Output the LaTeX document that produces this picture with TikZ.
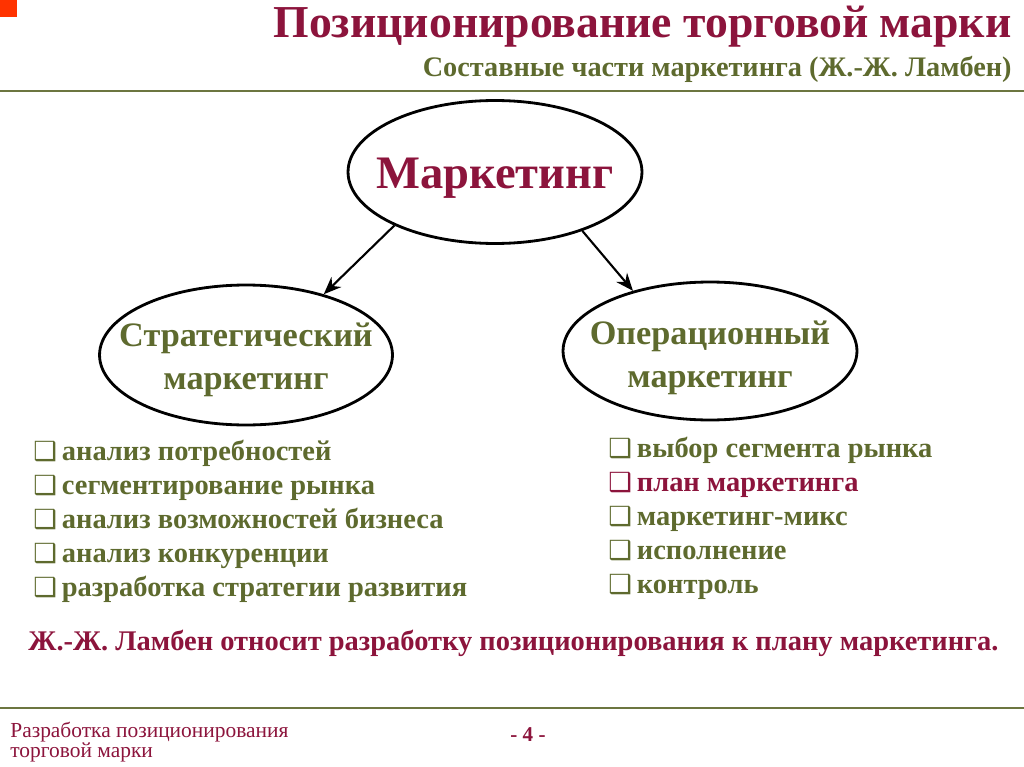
\documentclass[tikz,border=0pt]{standalone}
\usepackage{fontspec}
\setmainfont{Liberation Serif}
\newfontfamily\boxfont{DejaVu Sans}
\usetikzlibrary{shapes.geometric,arrows.meta}

\definecolor{maroon}{RGB}{140,20,60}
\definecolor{olivetext}{RGB}{94,106,46}
\definecolor{oliveline}{RGB}{108,118,64}
\definecolor{redmark}{RGB}{255,51,0}

\newcommand{\chk}[1][olivetext]{{\color{#1}\boxfont\fontsize{15pt}{15pt}\selectfont\char"2751}\hspace{2.8pt}}

\begin{document}
\begin{tikzpicture}[x=0.02cm,y=-0.02cm,
  oval/.style={ellipse,draw,line width=1.6pt,inner sep=0pt,
    minimum width=5.88cm,minimum height=2.86cm},
  ovaltext/.style={align=center,inner sep=0pt,text=olivetext,
    font=\bfseries\fontsize{19.5pt}{24.4pt}\selectfont},
  arr/.style={-{Stealth[length=10pt,width=8pt]},line width=1.2pt},
  items/.style={anchor=north west,align=left,inner sep=0pt,
    font=\bfseries\fontsize{16.2pt}{19.3pt}\selectfont,text=olivetext},
  rule/.style={oliveline,line width=1.6pt}]

  \useasboundingbox (0,0) rectangle (1024,767);
  \fill[redmark] (0,0) rectangle (17,17);

  \node[anchor=base east,inner sep=0pt,text=maroon,
    font=\bfseries\fontsize{26pt}{26pt}\selectfont] (title) at (1012,38)
    {Позиционирование торговой марки};
  \node[anchor=base east,inner sep=0pt,text=olivetext,
    font=\bfseries\fontsize{16.1pt}{16pt}\selectfont] (subtitle) at (1012,77)
    {Составные части маркетинга (Ж.-Ж. Ламбен)};
  \draw[rule] (0,91) -- (1024,91);

  \node[oval] (mk) at (495,172) {};
  \node[oval,minimum width=5.86cm,minimum height=2.8cm] (strat) at (246,355) {};
  \node[oval,minimum width=5.88cm,minimum height=2.76cm] (oper) at (710,351) {};

  \node[ovaltext,text=maroon,font=\bfseries\fontsize{26.5pt}{26pt}\selectfont]
    (mktext) at (495,178) {Маркетинг};
  \node[ovaltext] (strattext) at (246,360) {Стратегический\\маркетинг};
  \node[ovaltext] (opertext) at (710,358) {Операционный\\маркетинг};

  \draw[arr] (mk.208) -- (strat.38);
  \draw[arr] (mk.326) -- (oper.142);

  \node[items] (leftlist) at (33,440)
    {\chk анализ потребностей\\
     \chk сегментирование рынка\\
     \chk анализ возможностей бизнеса\\
     \chk анализ конкуренции\\
     \chk разработка стратегии развития};
  \node[items] (rightlist) at (608,437)
    {\chk выбор сегмента рынка\\
     \chk[maroon]\textcolor{maroon}{план маркетинга}\\
     \chk маркетинг-микс\\
     \chk исполнение\\
     \chk контроль};

  \node[anchor=base west,inner sep=0pt,text=maroon,
    font=\bfseries\fontsize{16.2pt}{16pt}\selectfont] (note) at (28,650)
    {Ж.-Ж. Ламбен относит разработку позиционирования к плану маркетинга.};

  \draw[rule] (0,708) -- (1024,708);
  \node[anchor=north west,align=left,inner sep=0pt,text=maroon,
    font=\fontsize{12.2pt}{11.5pt}\selectfont] (foot) at (10,722)
    {Разработка позиционирования\\торговой марки};
  \node[anchor=north,inner sep=0pt,text=maroon,
    font=\bfseries\fontsize{12pt}{12pt}\selectfont] (pagenum) at (528,727) {- 4 -};

\end{tikzpicture}
\end{document}
